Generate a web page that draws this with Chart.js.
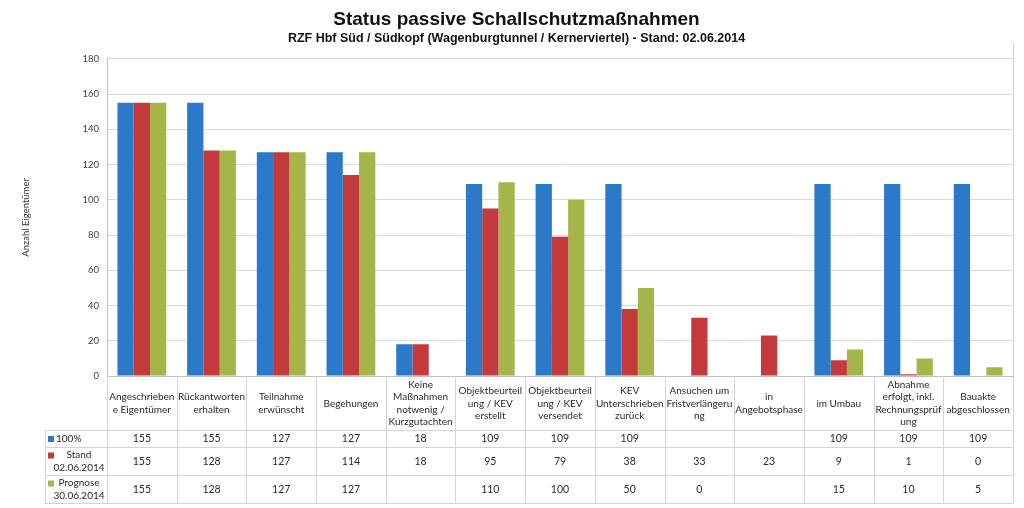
<!DOCTYPE html>
<html>
<head>
<meta charset="utf-8">
<script src="https://cdn.jsdelivr.net/npm/chart.js@4"></script>
<style>
html,body{margin:0;padding:0;background:#fff;}
#wrap{width:1024px;height:508px;}
</style>
</head>
<body>
<div id="wrap"><canvas id="c" width="1024" height="508"></canvas></div>
<script>
const categories = [
  ["Angeschrieben","e Eigentümer"],
  ["Rückantworten","erhalten"],
  ["Teilnahme","erwünscht"],
  ["Begehungen"],
  ["Keine","Maßnahmen","notwenig /","Kurzgutachten"],
  ["Objektbeurteil","ung / KEV","erstellt"],
  ["Objektbeurteil","ung / KEV","versendet"],
  ["KEV","Unterschrieben","zurück"],
  ["Ansuchen um","Fristverlängeru","ng"],
  ["in","Angebotsphase"],
  ["im Umbau"],
  ["Abnahme","erfolgt, inkl.","Rechnungsprüf","ung"],
  ["Bauakte","abgeschlossen"]
];
const seriesNames = [["100%"],["Stand","02.06.2014"],["Prognose","30.06.2014"]];
const values100 = [155,155,127,127,18,109,109,109,null,null,109,109,109];
const valuesStand = [155,128,127,114,18,95,79,38,33,23,9,1,0];
const valuesPrognose = [155,128,127,127,null,110,100,50,0,null,15,10,5];
const yTicks = [0,20,40,60,80,100,120,140,160,180];

const colors = ['#2b79c9','#c23a3c','#a6b549'];
const headFont = "10px Lato, 'Liberation Sans', sans-serif";
const valFont = "10.5px Lato, 'Liberation Sans', sans-serif";
const legFont = "10px Lato, 'Liberation Sans', sans-serif";
const textColor = '#2a2a2a';

const tablePlugin = {
  id: 'dataTable',
  afterDraw(chart) {
    const ctx = chart.ctx;
    const ca = chart.chartArea;
    const n = chart.data.labels.length;
    const cw = (ca.right - ca.left) / n;
    const top = ca.bottom;
    const rows = [top + 54, top + 71, top + 99, top + 127];
    const legLeft = 45;
    ctx.save();
    ctx.strokeStyle = '#d4d4d4';
    ctx.lineWidth = 1;
    for (let i = 0; i <= n; i++) {
      const x = Math.round(ca.left + i * cw) + 0.5;
      ctx.beginPath();
      ctx.moveTo(x, top);
      ctx.lineTo(x, rows[3]);
      ctx.stroke();
    }
    ctx.beginPath();
    ctx.moveTo(legLeft + 0.5, rows[0]);
    ctx.lineTo(legLeft + 0.5, rows[3]);
    ctx.stroke();
    ctx.beginPath();
    ctx.moveTo(Math.round(ca.right) + 0.5, 42);
    ctx.lineTo(Math.round(ca.right) + 0.5, top);
    ctx.stroke();
    rows.forEach(y => {
      ctx.beginPath();
      ctx.moveTo(legLeft, Math.round(y) + 0.5);
      ctx.lineTo(ca.right, Math.round(y) + 0.5);
      ctx.stroke();
    });
    // header labels
    ctx.fillStyle = textColor;
    ctx.font = headFont;
    ctx.textAlign = 'center';
    ctx.textBaseline = 'middle';
    const lh = 12.5;
    chart.data.labels.forEach((lab, i) => {
      const cx = ca.left + (i + 0.5) * cw;
      const cy = (top + rows[0]) / 2 + 0.5;
      const lines = Array.isArray(lab) ? lab : [lab];
      lines.forEach((t, k) => {
        ctx.fillText(t, cx, cy + (k - (lines.length - 1) / 2) * lh);
      });
    });
    // data rows
    chart.data.datasets.forEach((ds, r) => {
      const y0 = rows[r], y1 = rows[r + 1];
      const cy = (y0 + y1) / 2 + 0.5;
      ctx.font = legFont;
      ctx.fillStyle = ds.backgroundColor;
      const names = seriesNames[r];
      if (names.length === 1) {
        ctx.fillRect(legLeft + 3, cy - 3, 6, 6);
        ctx.fillStyle = textColor;
        ctx.textAlign = 'left';
        ctx.fillText(names[0], legLeft + 11, cy);
      } else {
        ctx.fillRect(legLeft + 3, cy - 9, 6, 6);
        ctx.fillStyle = textColor;
        ctx.textAlign = 'center';
        ctx.fillText(names[0], legLeft + 34, cy - 6.5);
        ctx.fillText(names[1], legLeft + 34, cy + 6.5);
      }
      ctx.font = valFont;
      ctx.textAlign = 'center';
      ds.data.forEach((v, i) => {
        if (v === null || v === undefined) return;
        const cx = ca.left + (i + 0.5) * cw;
        ctx.fillText(String(v), cx, cy);
      });
    });
    ctx.restore();
  }
};

new Chart(document.getElementById('c'), {
  type: 'bar',
  data: {
    labels: categories,
    datasets: [
      { label: '100%', data: values100, backgroundColor: colors[0] },
      { label: 'Stand 02.06.2014', data: valuesStand, backgroundColor: colors[1] },
      { label: 'Prognose 30.06.2014', data: valuesPrognose, backgroundColor: colors[2] }
    ]
  },
  options: {
    responsive: false,
    animation: false,
    devicePixelRatio: 1,
    layout: { padding: { left: 20, right: 11, top: 0, bottom: 0 } },
    datasets: { bar: { categoryPercentage: 0.7, barPercentage: 1.0 } },
    plugins: {
      legend: { display: false },
      tooltip: { enabled: false },
      title: {
        display: true,
        text: 'Status passive Schallschutzmaßnahmen',
        color: '#111111',
        font: { family: "'Liberation Sans Narrow','Arial Narrow','Liberation Sans',sans-serif", size: 19, weight: 'bold' },
        padding: { top: 8, bottom: 0 }
      },
      subtitle: {
        display: true,
        text: 'RZF Hbf Süd / Südkopf (Wagenburgtunnel / Kernerviertel) - Stand: 02.06.2014',
        color: '#111111',
        font: { family: "'Liberation Sans Narrow','Arial Narrow','Liberation Sans',sans-serif", size: 12.5, weight: 'bold' },
        padding: { top: 0, bottom: 13 }
      }
    },
    scales: {
      x: {
        grid: { display: false },
        ticks: { display: false },
        border: { display: true, color: '#bfbfbf' },
        afterFit(scale) { scale.height = 132; }
      },
      y: {
        min: 0, max: 180,
        afterBuildTicks(scale) { scale.ticks = yTicks.map(v => ({ value: v })); },
        ticks: {
          color: '#404040',
          font: { family: "Lato, 'Liberation Sans', sans-serif", size: 9.5 },
          padding: 8
        },
        grid: { color: '#d9d9d9', drawTicks: false },
        border: { display: true, color: '#bfbfbf' },
        title: {
          display: true,
          text: 'Anzahl Eigentümer',
          color: '#333333',
          font: { family: "Lato, 'Liberation Sans', sans-serif", size: 9.5 },
          padding: { top: 0, bottom: 0 }
        },
        afterFit(scale) { scale.width = 87; }
      }
    }
  },
  plugins: [tablePlugin]
});
</script>
</body>
</html>
